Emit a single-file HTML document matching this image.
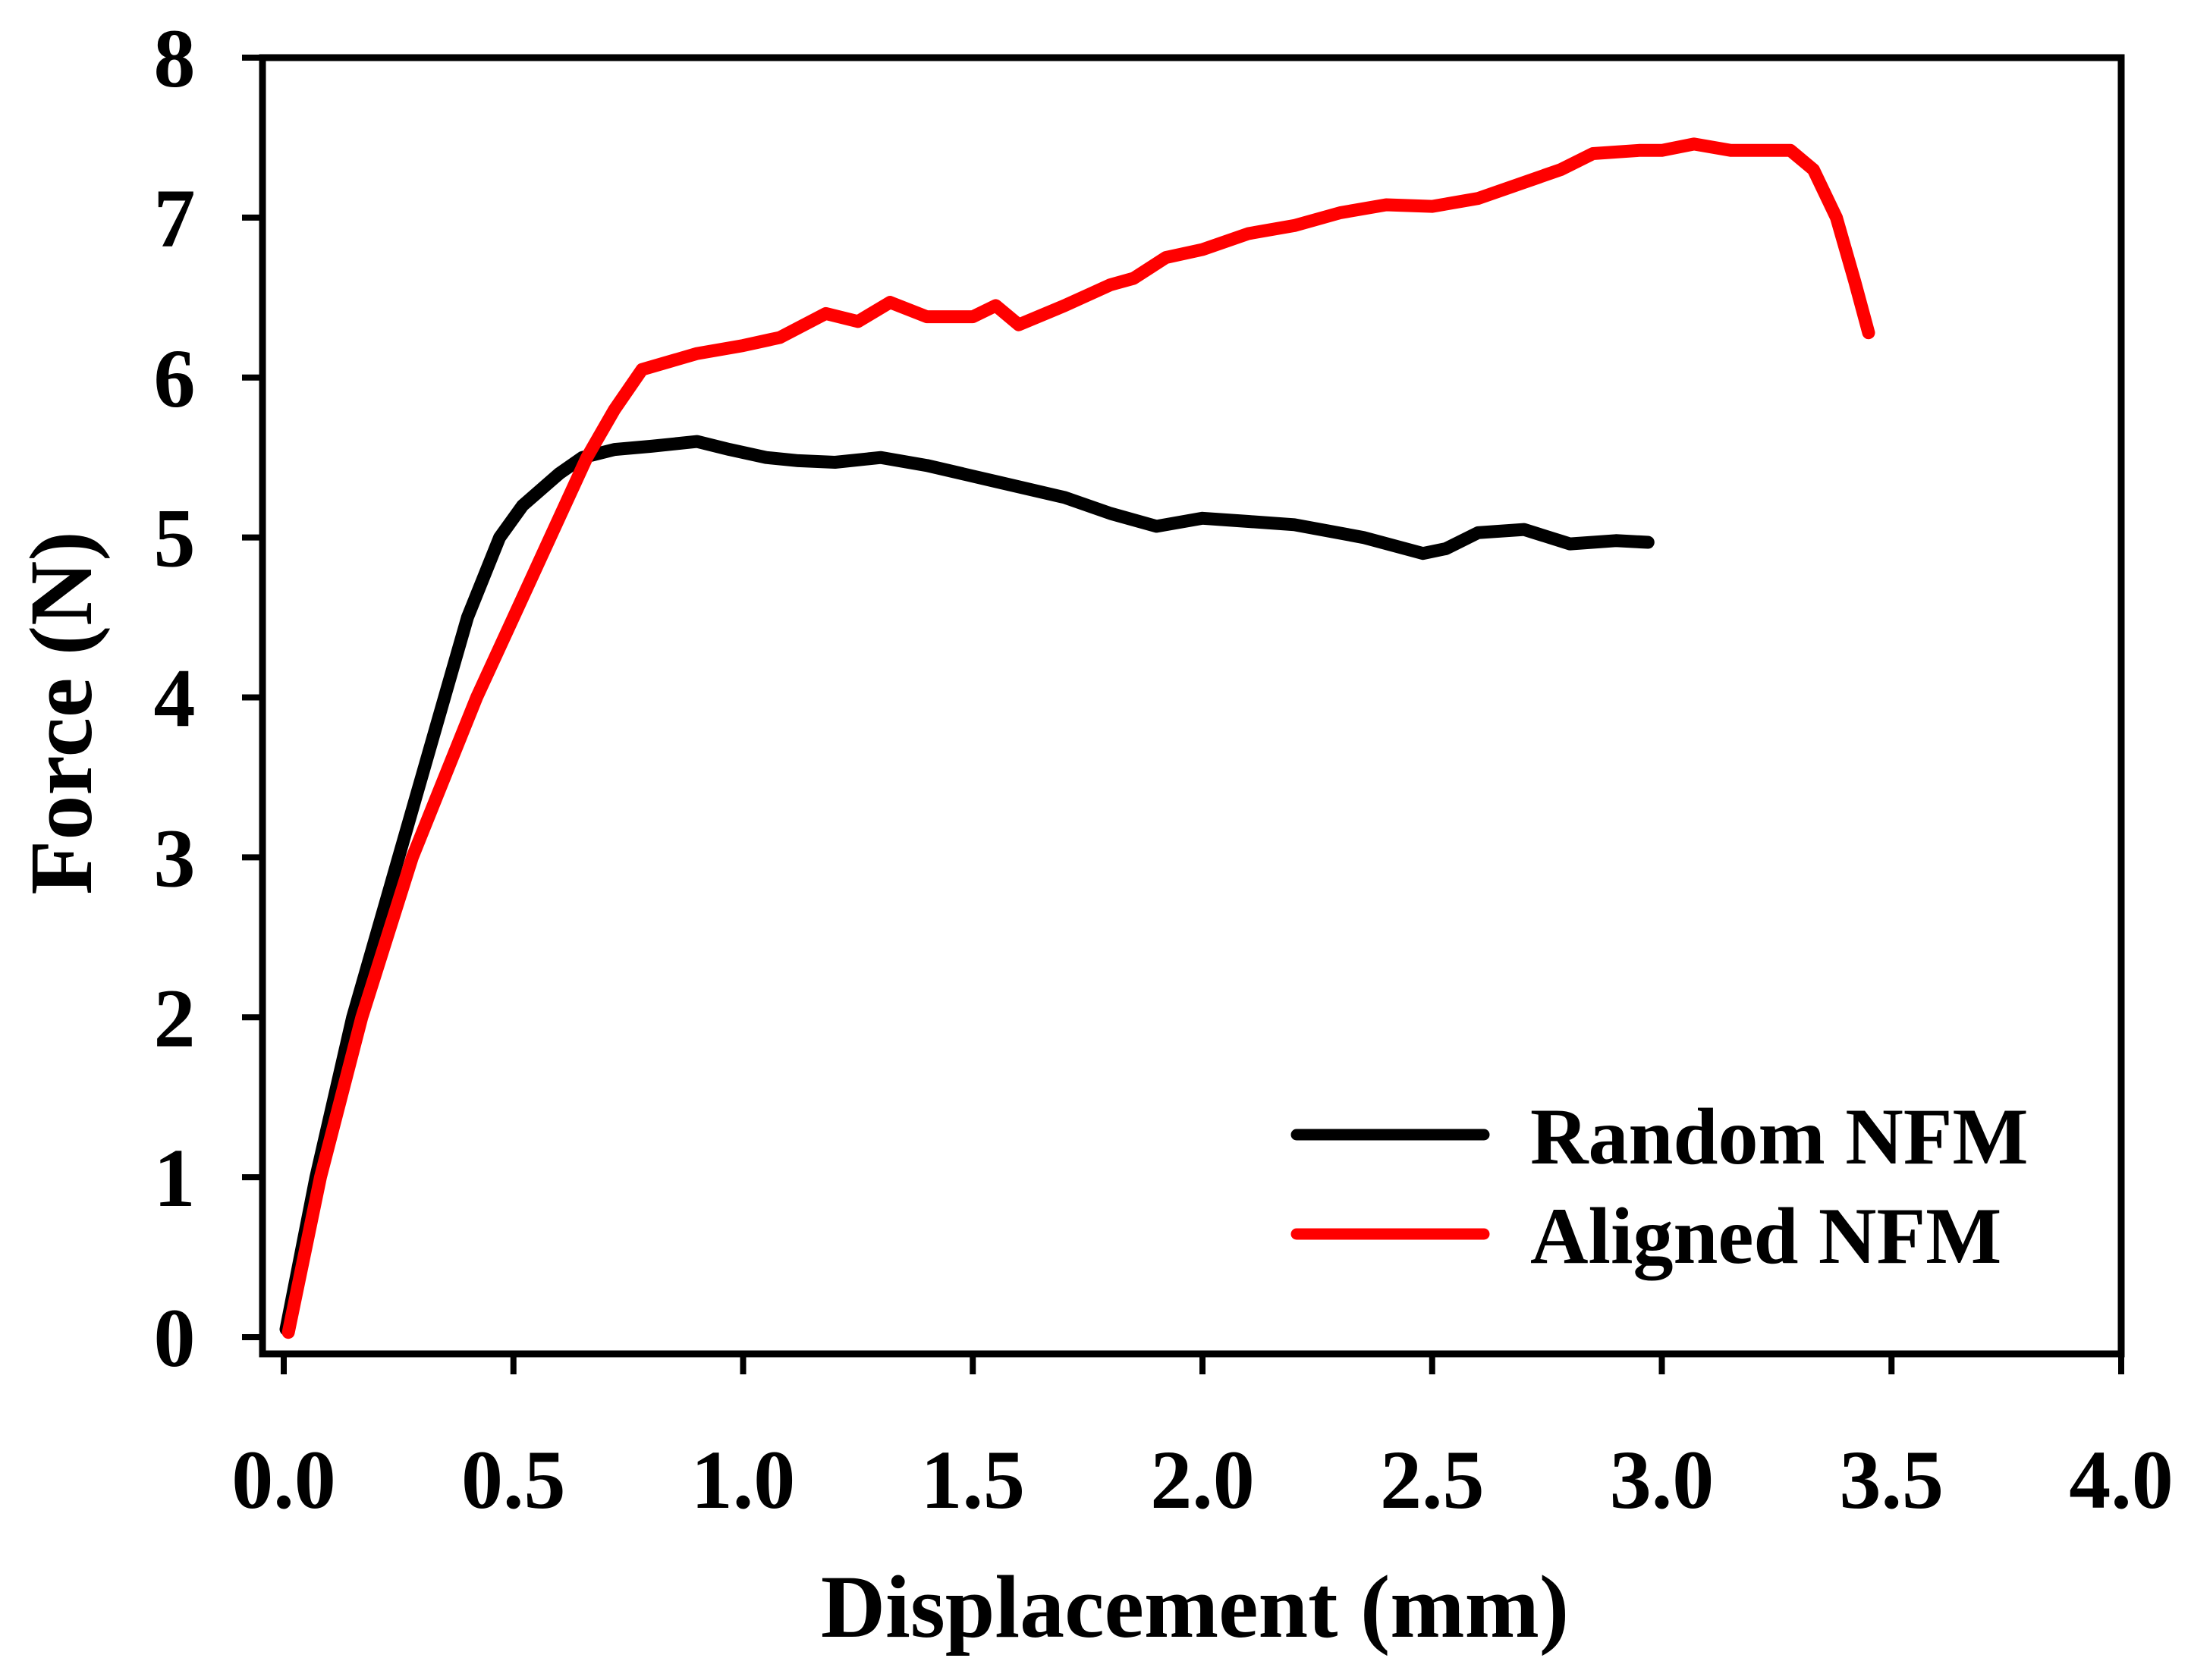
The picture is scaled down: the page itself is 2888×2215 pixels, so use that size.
<!DOCTYPE html>
<html><head><meta charset="utf-8"><style>
html,body{margin:0;padding:0;background:#fff}
svg{display:block}
text{font-family:"Liberation Serif",serif;font-weight:bold;fill:#000}
</style></head><body>
<svg id="chart" width="2888" height="2215" viewBox="0 0 2888 2215" xmlns="http://www.w3.org/2000/svg">
<g id="axes"></g>
<g id="series"></g>
<text x="1575" y="2158" font-size="118" text-anchor="middle">Displacement (mm)</text>
<text transform="translate(120,940) rotate(-90)" font-size="118" text-anchor="middle">Force (N)</text>
<g>
<line x1="1709" y1="1496" x2="1956" y2="1496" stroke="#000" stroke-width="15" stroke-linecap="round"/>
<text x="2017" y="1534" font-size="106">Random NFM</text>
<line x1="1709" y1="1627" x2="1956" y2="1627" stroke="#f00" stroke-width="15" stroke-linecap="round"/>
<text x="2017" y="1665" font-size="106">Aligned NFM</text>
</g>
</svg>
<script>
const xTicks=[0,0.5,1.0,1.5,2.0,2.5,3.0,3.5,4.0];
const xTickLabels=["0.0","0.5","1.0","1.5","2.0","2.5","3.0","3.5","4.0"];
const yTicks=[0,1,2,3,4,5,6,7,8];
const yTickLabels=["0","1","2","3","4","5","6","7","8"];
const randomX=[0.005,0.07,0.15,0.25,0.35,0.4,0.47,0.52,0.6,0.65,0.72,0.8,0.9,0.97,1.05,1.12,1.2,1.3,1.4,1.55,1.7,1.8,1.9,2.0,2.1,2.2,2.35,2.48,2.53,2.6,2.7,2.8,2.9,2.97];
const randomY=[0.05,1,2,3,4,4.5,5,5.2,5.4,5.5,5.55,5.57,5.6,5.55,5.5,5.48,5.47,5.5,5.45,5.35,5.25,5.15,5.07,5.12,5.1,5.08,5.0,4.9,4.93,5.03,5.05,4.96,4.98,4.97];
const alignedX=[0.01,0.08,0.17,0.28,0.42,0.5,0.58,0.66,0.72,0.78,0.9,1.0,1.08,1.18,1.25,1.32,1.4,1.5,1.55,1.6,1.7,1.8,1.85,1.92,2.0,2.1,2.2,2.3,2.4,2.5,2.6,2.7,2.78,2.85,2.95,3.0,3.07,3.15,3.28,3.33,3.38,3.42,3.45];
const alignedY=[0.03,1,2,3,4,4.5,5,5.5,5.8,6.05,6.15,6.2,6.25,6.4,6.35,6.47,6.38,6.38,6.45,6.33,6.45,6.58,6.62,6.75,6.8,6.9,6.95,7.03,7.08,7.07,7.12,7.22,7.3,7.4,7.42,7.42,7.46,7.42,7.42,7.3,7.0,6.6,6.28];

const X0=374,X1=2796,Y0=1763,Y1=76;
const L=346,R=2796,T=76,B=1785;
function sx(v){return X0+(X1-X0)*v/4;}
function sy(v){return Y0-(Y0-Y1)*v/8;}
const NS="http://www.w3.org/2000/svg";
const axes=document.getElementById('axes');
const ser=document.getElementById('series');
function mk(tag,attrs,parent){const e=document.createElementNS(NS,tag);for(const k in attrs)e.setAttribute(k,attrs[k]);parent.appendChild(e);return e;}

const frame=mk('rect',{x:L,y:T,width:R-L,height:B-T,fill:'none',stroke:'#000','stroke-width':9},axes);



xTicks.forEach((v,i)=>{
  const t=mk('line',{x1:sx(v),x2:sx(v),y1:B,y2:B+27,stroke:'#000','stroke-width':8},axes);
  
  
  const lb=mk('text',{x:sx(v),y:1988,'font-size':110,'text-anchor':'middle'},axes);
  lb.textContent=xTickLabels[i];
  
  
});
yTicks.forEach((v,i)=>{
  const t=mk('line',{x1:L-27,x2:L,y1:sy(v),y2:sy(v),stroke:'#000','stroke-width':8},axes);
  
  
  const lb=mk('text',{x:230,y:sy(v)+38,'font-size':110,'text-anchor':'middle'},axes);
  lb.textContent=yTickLabels[i];
  
  
});

function line(xs,ys,color,name){
  const d=xs.map((x,i)=>(i?'L':'M')+sx(x).toFixed(1)+','+sy(ys[i]).toFixed(1)).join(' ');
  const p=mk('path',{d:d,fill:'none',stroke:color,'stroke-width':17,'stroke-linecap':'round','stroke-linejoin':'round'},ser);
  
  
}
line(randomX,randomY,'#000','random-nfm-line');
line(alignedX,alignedY,'#f00','aligned-nfm-line');
</script>
</body></html>
